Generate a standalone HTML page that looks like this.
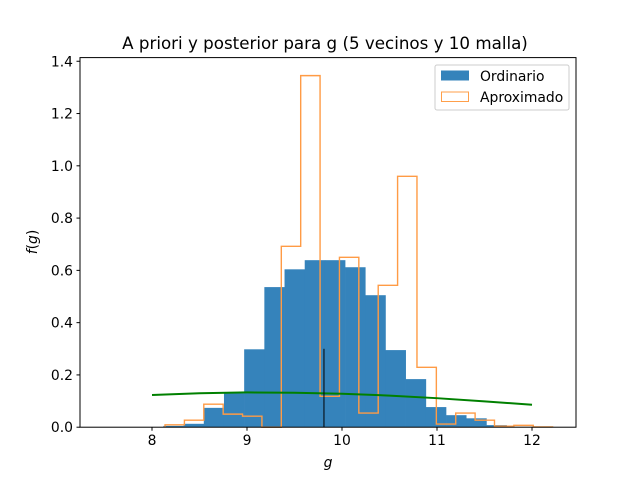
<!DOCTYPE html>
<html><head><meta charset="utf-8"><style>
body{margin:0;background:#fff}
svg text{font-family:"DejaVu Sans","Liberation Sans",sans-serif;fill:#000}
</style></head><body>
<svg id="c" width="640" height="480" xmlns="http://www.w3.org/2000/svg">
<rect width="640" height="480" fill="#fff"/>
<text x="325" y="49" font-size="16.7" text-anchor="middle">A priori y posterior para g (5 vecinos y 10 malla)</text>
<g id="marks"></g>
<rect x="80" y="57.6" width="496" height="369.6" fill="none" stroke="#000" stroke-width="1"/>
<g id="ticks"></g>
<text x="328" y="467" font-size="13.9" font-style="italic" text-anchor="middle">g</text>
<text x="37" y="242" font-size="13.9" text-anchor="middle" transform="rotate(-90 37 242)"><tspan font-style="italic">f</tspan>(<tspan font-style="italic">g</tspan>)</text>
<g>
<rect x="435" y="65" width="134" height="45" rx="2" fill="#fff" fill-opacity="0.8" stroke="#ccc"/>
<rect x="441" y="70.5" width="28" height="10" fill="#3583bb"/>
<text x="480" y="81" font-size="13.9">Ordinario</text>
<rect x="441.5" y="92" width="27" height="9.5" fill="none" stroke="#ff9f4a"/>
<text x="480" y="102" font-size="13.9">Aproximado</text>
</g>
</svg>
<script>
const blueStart = 8.12;
const blueWidth = 0.2125;
const blueValues = [0.005,0.013,0.074,0.13,0.298,0.536,0.604,0.639,0.639,0.612,0.505,0.295,0.184,0.077,0.046,0.034,0.008];
const orangeStart = 8.137;
const orangeWidth = 0.204;
const orangeValues = [0.009,0.027,0.088,0.05,0.042,0,0.692,1.345,0.118,0.65,0.054,0.543,0.96,0.229,0.012,0.054,0.027,0.004,0.007,0.001];
const priorX = [8,8.5,9,9.5,10,10.5,11,11.5,12];
const priorY = [0.123,0.13,0.133,0.132,0.128,0.121,0.111,0.099,0.086];
const markerX = 9.81, markerH = 0.3;
const xTicks = [8,9,10,11,12];
const yTicks = [0,0.2,0.4,0.6,0.8,1.0,1.2,1.4];
const xMin=7.242,xMax=12.463,yMin=0,yMax=1.414;
const L=80,R=576,T=57.6,B=427.2;
const sx=v=>L+(v-xMin)/(xMax-xMin)*(R-L);
const sy=v=>B-(v-yMin)/(yMax-yMin)*(B-T);
const NS='http://www.w3.org/2000/svg';
const mk=(t,a,p)=>{const e=document.createElementNS(NS,t);for(const k in a)e.setAttribute(k,a[k]);p.appendChild(e);return e;};
const g=document.getElementById('marks');
blueValues.forEach((v,i)=>{
  const x0=sx(blueStart+i*blueWidth),x1=sx(blueStart+(i+1)*blueWidth);
  const r=mk('rect',{x:x0,y:sy(v),width:x1-x0+0.3,height:B-sy(v),fill:'#3583bb'},g);
  
  
});
let d='M'+sx(orangeStart)+','+B;
orangeValues.forEach((v,i)=>{
  d+=' L'+sx(orangeStart+i*orangeWidth)+','+sy(v)+' L'+sx(orangeStart+(i+1)*orangeWidth)+','+sy(v);
});
d+=' L'+sx(orangeStart+orangeValues.length*orangeWidth)+','+B;
const st=mk('path',{d:d,fill:'none',stroke:'#ff9b45','stroke-width':1.4},g);


const pl=mk('polyline',{points:priorX.map((x,i)=>sx(x)+','+sy(priorY[i])).join(' '),fill:'none',stroke:'#008000','stroke-width':2},g);


const ml=mk('line',{x1:sx(markerX),x2:sx(markerX),y1:B,y2:sy(markerH),stroke:'#000','stroke-width':1},g);


const tg=document.getElementById('ticks');
xTicks.forEach(v=>{
  const x=sx(v);
  mk('line',{x1:x,x2:x,y1:B,y2:B+3.5,stroke:'#000'},tg);
  const t=mk('text',{x:x,y:B+18,'font-size':13.9,'text-anchor':'middle'},tg);t.textContent=String(v);
  
  
});
yTicks.forEach(v=>{
  const y=sy(v);
  mk('line',{x1:L-3.5,x2:L,y1:y,y2:y,stroke:'#000'},tg);
  const t=mk('text',{x:L-7,y:y+5,'font-size':13.9,'text-anchor':'end'},tg);t.textContent=v.toFixed(1);
  
  
});
</script>
</body></html>
